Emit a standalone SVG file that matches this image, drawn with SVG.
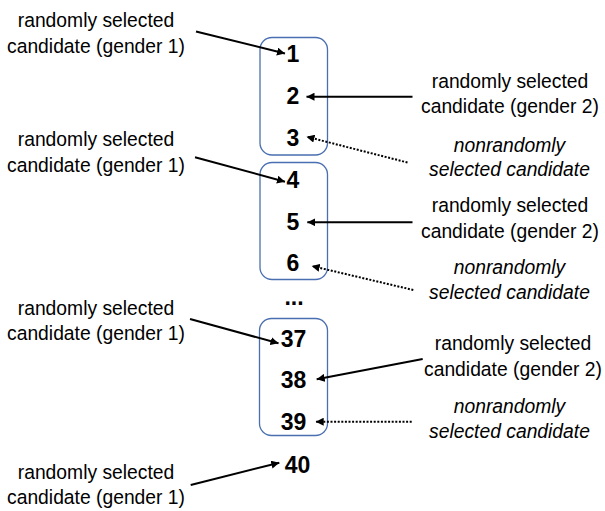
<svg xmlns="http://www.w3.org/2000/svg" width="605" height="511" viewBox="0 0 605 511">
<style>
.lbl{font-family:"Liberation Sans",Arial,sans-serif;font-size:19.3px;fill:#000;text-anchor:middle}
.it{font-style:italic}
.num{font-family:"Liberation Sans",Arial,sans-serif;font-size:23px;font-weight:bold;fill:#000;text-anchor:middle}
.box{fill:none;stroke:#4a6fb0;stroke-width:1.3}
.ar{stroke:#000;stroke-width:2;fill:none;marker-end:url(#ah)}
.dt{stroke:#000;stroke-width:2;fill:none;stroke-dasharray:2 1.6;marker-end:url(#ah)}
</style>
<defs>
<marker id="ah" markerUnits="userSpaceOnUse" markerWidth="10" markerHeight="8" refX="8" refY="4" orient="auto">
<path d="M0,0 L8,4 L0,8 Z" fill="#000"/>
</marker>
</defs>
<g id="block1">
<rect class="box" x="260" y="37.5" width="67.5" height="117.5" rx="12"/>
<text class="num" x="293" y="62">1</text>
<text class="num" x="293" y="104">2</text>
<text class="num" x="293" y="146">3</text>
</g>
<g id="block2">
<rect class="box" x="260" y="162.5" width="67.5" height="117" rx="12"/>
<text class="num" x="293" y="187.5">4</text>
<text class="num" x="293" y="230">5</text>
<text class="num" x="293" y="271">6</text>
</g>
<g id="ellipsis">
<text class="num" x="294" y="305">...</text>
</g>
<g id="block3">
<rect class="box" x="259.5" y="318.5" width="68" height="117" rx="12"/>
<text class="num" x="293.5" y="347">37</text>
<text class="num" x="293.5" y="388">38</text>
<text class="num" x="293.5" y="430">39</text>
</g>
<g id="n40">
<text class="num" x="297.5" y="473">40</text>
</g>
<g id="label-g1-a">
<text class="lbl" x="96" y="27">randomly selected</text>
<text class="lbl" x="96" y="53">candidate (gender 1)</text>
</g>
<g id="label-g2-a">
<text class="lbl" x="510" y="87.5">randomly selected</text>
<text class="lbl" x="510" y="113">candidate (gender 2)</text>
</g>
<g id="label-nr-a">
<text class="lbl it" x="509.5" y="151.5">nonrandomly</text>
<text class="lbl it" x="509.5" y="176">selected candidate</text>
</g>
<g id="label-g1-b">
<text class="lbl" x="96" y="145.5">randomly selected</text>
<text class="lbl" x="96" y="171.5">candidate (gender 1)</text>
</g>
<g id="label-g2-b">
<text class="lbl" x="510" y="211.5">randomly selected</text>
<text class="lbl" x="510" y="237.5">candidate (gender 2)</text>
</g>
<g id="label-nr-b">
<text class="lbl it" x="509.5" y="273.5">nonrandomly</text>
<text class="lbl it" x="509.5" y="298.5">selected candidate</text>
</g>
<g id="label-g1-c">
<text class="lbl" x="96" y="315">randomly selected</text>
<text class="lbl" x="96" y="340">candidate (gender 1)</text>
</g>
<g id="label-g2-c">
<text class="lbl" x="513" y="350">randomly selected</text>
<text class="lbl" x="513" y="376">candidate (gender 2)</text>
</g>
<g id="label-nr-c">
<text class="lbl it" x="509.5" y="412.5">nonrandomly</text>
<text class="lbl it" x="509.5" y="437.5">selected candidate</text>
</g>
<g id="label-g1-d">
<text class="lbl" x="96" y="478.5">randomly selected</text>
<text class="lbl" x="96" y="503.5">candidate (gender 1)</text>
</g>
<g id="connectors">
<line class="ar" x1="196" y1="31.5" x2="285" y2="53.5"/>
<line class="ar" x1="412.5" y1="96.7" x2="306.5" y2="96.7"/>
<line class="dt" x1="407.5" y1="162.5" x2="306.5" y2="136.7"/>
<line class="ar" x1="195" y1="157.3" x2="285" y2="181.7"/>
<line class="ar" x1="412.5" y1="222.3" x2="307.3" y2="222.3"/>
<line class="dt" x1="413.3" y1="290" x2="311.7" y2="266"/>
<line class="ar" x1="190" y1="319" x2="278.5" y2="343.3"/>
<line class="ar" x1="422.7" y1="359" x2="316.7" y2="379.3"/>
<line class="dt" x1="411.7" y1="421.7" x2="315.7" y2="421.7"/>
<line class="ar" x1="190.7" y1="485" x2="279.3" y2="462.7"/>
</g>
</svg>
